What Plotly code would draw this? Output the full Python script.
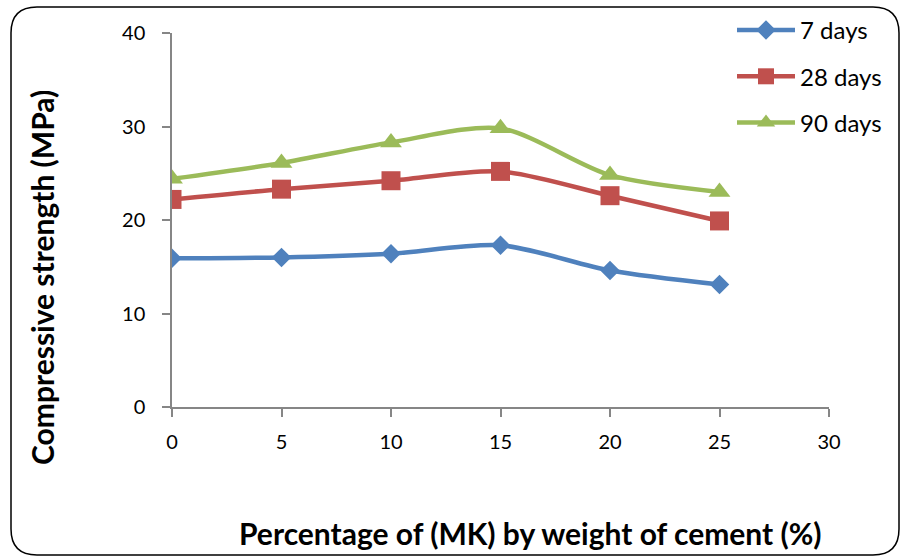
import plotly.graph_objects as go

# ---- data ----
mk_percent = [0, 5, 10, 15, 20, 25]
days7 = [15.9, 16.0, 16.4, 17.3, 14.6, 13.1]
days28 = [22.2, 23.3, 24.2, 25.2, 22.6, 19.9]
days90 = [24.4, 26.1, 28.3, 29.8, 24.8, 23.0]
series_names = ["7 days", "28 days", "90 days"]
x_ticks = [0, 5, 10, 15, 20, 25, 30]
y_ticks = [0, 10, 20, 30, 40]

W, H = 904, 559
L, R, T, B = 172, 75, 33, 152
PW, PH = W - L - R, H - T - B

def px(x):
    return (x - L) / PW

def py(y):
    return (H - B - y) / PH

FONT = "Lato, Carlito, Calibri, sans-serif"
colors = ["#4F81BD", "#C0504D", "#9BBB59"]
symbols = ["diamond", "square", "triangle-up"]
sizes = [15, 19, 19]

fig = go.Figure()
for i, (name, vals) in enumerate(zip(series_names, [days7, days28, days90])):
    fig.add_trace(go.Scatter(
        x=mk_percent, y=vals, name=name, mode="lines+markers",
        line=dict(color=colors[i], width=4.5, shape="spline", smoothing=0.8),
        marker=dict(symbol=symbols[i], size=sizes[i], color=colors[i]),
        legendgroup=name,
    ))

axis_common = dict(
    showgrid=False, zeroline=False, showline=True, linecolor="#868686", linewidth=1.5,
    ticks="outside", ticklen=8, tickcolor="#868686", tickwidth=1.5,
    tickfont=dict(family=FONT, size=20, color="#000000"),
)
fig.update_xaxes(range=[0, 30], tickvals=x_ticks, ticklabelstandoff=8, **axis_common)
fig.update_yaxes(range=[0, 40], tickvals=y_ticks, ticklabelstandoff=13, **axis_common)

# rounded outer border
x0, y0, x1, y1, r = 11, 7, 899, 555, 26
path = (f"M {px(x0+r)} {py(y0)} L {px(x1-r)} {py(y0)} Q {px(x1)} {py(y0)} {px(x1)} {py(y0+r)} "
        f"L {px(x1)} {py(y1-r)} Q {px(x1)} {py(y1)} {px(x1-r)} {py(y1)} "
        f"L {px(x0+r)} {py(y1)} Q {px(x0)} {py(y1)} {px(x0)} {py(y1-r)} "
        f"L {px(x0)} {py(y0+r)} Q {px(x0)} {py(y0)} {px(x0+r)} {py(y0)} Z")
fig.add_shape(type="path", path=path, xref="paper", yref="paper",
              line=dict(color="#000000", width=1.5), layer="below")

fig.add_annotation(text="<b>Percentage of (MK) by weight of cement (%)</b>",
                   x=px(530), y=py(533), xref="paper", yref="paper",
                   showarrow=False, xanchor="center", yanchor="middle",
                   font=dict(family=FONT, size=30, color="#000000"))
fig.add_annotation(text="<b>Compressive strength (MPa)</b>",
                   x=px(42), y=py(278), xref="paper", yref="paper", textangle=-90,
                   showarrow=False, xanchor="center", yanchor="middle",
                   font=dict(family=FONT, size=30, color="#000000"))

fig.update_layout(
    width=W, height=H,
    margin=dict(l=L, r=R, t=T, b=B, autoexpand=False),
    paper_bgcolor="white", plot_bgcolor="white",
    showlegend=True,
    legend=dict(x=px(732), y=py(8), xanchor="left", yanchor="top",
                font=dict(family=FONT, size=24, color="#000000"),
                itemwidth=58, tracegroupgap=12, bgcolor="rgba(0,0,0,0)"),
)

fig.write_html("out.html", config={"displayModeBar": False},
               post_script="document.body.style.margin='0';document.body.style.overflow='hidden';")
